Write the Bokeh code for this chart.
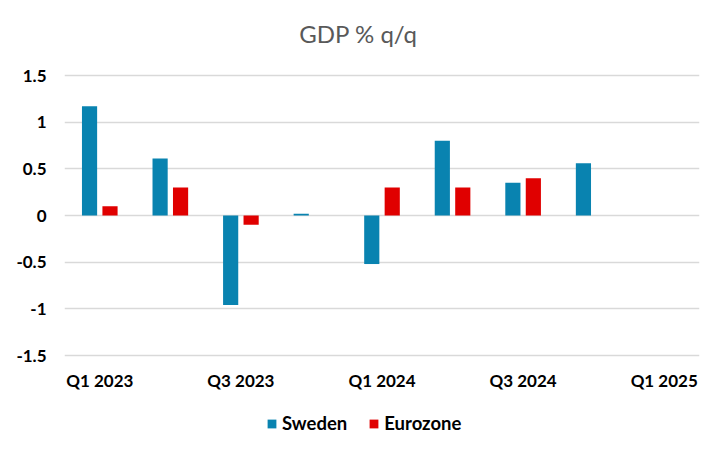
from bokeh.plotting import figure
from bokeh.models import (ColumnDataSource, Range1d, FixedTicker, NumeralTickFormatter,
                          Legend, LegendItem, Label)
from bokeh.embed import file_html
from bokeh.resources import INLINE

# ---- data ----
quarters = ["Q1 2023", "Q2 2023", "Q3 2023", "Q4 2023", "Q1 2024",
            "Q2 2024", "Q3 2024", "Q4 2024", "Q1 2025"]
sweden = [1.17, 0.61, -0.96, 0.02, -0.52, 0.80, 0.35, 0.56, None]
eurozone = [0.10, 0.30, -0.10, 0.00, 0.30, 0.30, 0.40, None, None]
y_ticks = [-1.5, -1.0, -0.5, 0.0, 0.5, 1.0, 1.5]
title_text = "GDP % q/q"
series_names = ["Sweden", "Eurozone"]

FONT = "Lato"
BLUE = "#0983b0"
RED = "#e00000"
GRID = "#d9d9d9"

W, H = 706, 439
LEFT, RIGHT = 64, 7
GRID_TOP_PX, GRID_BOTTOM_PX = 75, 355   # pixel rows of the 1.5 and -1.5 gridlines
px_per_unit = (GRID_BOTTOM_PX - GRID_TOP_PX) / (max(y_ticks) - min(y_ticks))
y_hi = max(y_ticks) + GRID_TOP_PX / px_per_unit
y_lo = min(y_ticks) - (H - GRID_BOTTOM_PX) / px_per_unit

def make_source(vals, offset):
    xs, tops = [], []
    for i, v in enumerate(vals):
        if v is not None:
            xs.append(i + offset)
            tops.append(v)
    return ColumnDataSource(dict(x=xs, top=tops))

p = figure(width=W, height=H, output_backend="svg", toolbar_location=None,
           x_range=Range1d(-0.5, len(quarters) - 0.5), y_range=Range1d(y_lo, y_hi),
           min_border_left=LEFT, min_border_right=RIGHT, min_border_top=0,
           min_border_bottom=0)
p.outline_line_color = None
p.background_fill_color = "white"
p.border_fill_color = "white"

r_se = p.vbar(x="x", top="top", bottom=0, width=0.215, source=make_source(sweden, -0.145),
              fill_color=BLUE, line_color=None)
r_ez = p.vbar(x="x", top="top", bottom=0, width=0.215, source=make_source(eurozone, 0.145),
              fill_color=RED, line_color=None)

# axes
p.xaxis.fixed_location = min(y_ticks)
p.xaxis.ticker = FixedTicker(ticks=list(range(0, len(quarters), 2)))
p.xaxis.major_label_overrides = {i: quarters[i] for i in range(0, len(quarters), 2)}
p.yaxis.ticker = FixedTicker(ticks=y_ticks)
p.yaxis.formatter = NumeralTickFormatter(format="0.[0]")
for ax in (p.xaxis, p.yaxis):
    ax.axis_line_color = None
    ax.major_tick_line_color = None
    ax.minor_tick_line_color = None
    ax.major_tick_out = 0
    ax.major_tick_in = 0
    ax.major_label_text_font = FONT
    ax.major_label_text_font_style = "bold"
    ax.major_label_text_font_size = "17px"
    ax.major_label_text_color = "#000000"
p.yaxis.major_label_standoff = 18
p.xaxis.major_label_standoff = 14

p.xgrid.grid_line_color = None
p.ygrid.ticker = FixedTicker(ticks=y_ticks)
p.ygrid.grid_line_color = GRID
p.ygrid.grid_line_width = 1.5

# title (inside the extended frame, near its top)
p.add_layout(Label(x=294, y=H - 33, x_units="screen", y_units="screen", text=title_text,
                   text_align="center", text_baseline="alphabetic",
                   text_font=FONT, text_font_size="24px", text_font_style="normal",
                   text_color="#595959"))

# legend
legend = Legend(items=[LegendItem(label=series_names[0], renderers=[r_se]),
                       LegendItem(label=series_names[1], renderers=[r_ez])],
                orientation="horizontal", location=(202, 5),
                glyph_width=11, glyph_height=11, label_standoff=5, spacing=21,
                padding=4, margin=0, border_line_color=None, background_fill_alpha=0,
                label_text_font=FONT, label_text_font_style="bold",
                label_text_font_size="18.5px", label_text_color="#000000")
p.add_layout(legend)

open("out.html", "w").write(file_html(p, INLINE))
